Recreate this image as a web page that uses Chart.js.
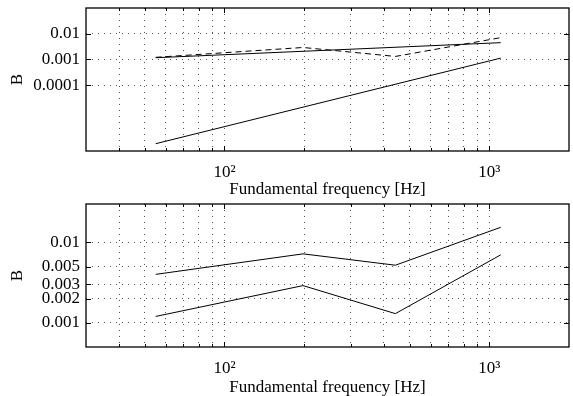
<!DOCTYPE html>
<html><head><meta charset="utf-8">
<script src="https://cdn.jsdelivr.net/npm/chart.js@4"></script>
<style>html,body{margin:0;padding:0;background:#fff;overflow:hidden}
canvas{position:absolute;left:0}</style></head>
<body>
<canvas id="c1" width="573" height="198" style="top:0"></canvas>
<canvas id="c2" width="573" height="198" style="top:198px"></canvas>
<script>
// ---- data ----
const freqEnds = [55, 1105];
const topSolidUpper = [0.00116, 0.00447];
const topSolidLower = [5.2e-7, 0.00112];
const freqs = [55, 198, 442, 1105];
const lowerSeries = [0.0012, 0.0029, 0.0013, 0.0070];
const upperSeries = [0.0040, 0.0072, 0.0052, 0.0154];
const xTickValues = [40,50,60,70,80,90,100,200,300,400,500,600,700,800,900,1000];
const xMajorTicks = [100, 1000];
const xMajorLabels = ['10\u00B2','10\u00B3'];
const topYTicks = [0.0001, 0.001, 0.01];
const topYLabels = ['0.0001','0.001','0.01'];
const botYTicks = [0.001, 0.002, 0.003, 0.005, 0.01];
const botYLabels = ['0.001','0.002','0.003','0.005','0.01'];
const xTitle = 'Fundamental frequency [Hz]';
const yTitle = 'B';

const FONT = {family: "'Liberation Serif', 'Times New Roman', serif", size: 17};

function pts(xs, ys){ return xs.map((x,i)=>({x:x, y:ys[i]})); }

const boxPlugin = {
  id: 'box',
  afterDraw(chart){
    const {ctx, chartArea: a} = chart;
    const xs = chart.scales.x, ys = chart.scales.y;
    ctx.save();
    ctx.strokeStyle = '#000';
    ctx.lineWidth = 1;
    ctx.beginPath();
    xs.ticks.forEach(t=>{
      const p = Math.round(xs.getPixelForValue(t.value)) + 0.5;
      const len = xMajorTicks.includes(t.value) ? 5 : 3;
      ctx.moveTo(p, a.bottom); ctx.lineTo(p, a.bottom - len);
      ctx.moveTo(p, a.top); ctx.lineTo(p, a.top + len);
    });
    ys.ticks.forEach(t=>{
      const p = Math.round(ys.getPixelForValue(t.value)) + 0.5;
      ctx.moveTo(a.left, p); ctx.lineTo(a.left + 5, p);
      ctx.moveTo(a.right, p); ctx.lineTo(a.right - 5, p);
    });
    ctx.stroke();
    ctx.lineWidth = 1.3;
    ctx.strokeRect(a.left, a.top, a.right - a.left, a.bottom - a.top);
    ctx.restore();
  }
};

function make(id, datasets, yMin, yMax, yTicks, yLabels, topPad, bottomY){
  return new Chart(document.getElementById(id), {
    type: 'line',
    data: {datasets: datasets},
    plugins: [boxPlugin],
    options: {
      responsive: false, animation: false, devicePixelRatio: 1,
      layout: {padding: {left: 0, right: 4, top: topPad, bottom: 0}},
      plugins: {legend: {display: false}, tooltip: {enabled: false}},
      elements: {point: {radius: 0}, line: {tension: 0}},
      scales: {
        x: {
          type: 'logarithmic', min: 30, max: 2000,
          afterBuildTicks: s => { s.ticks = xTickValues.map(v=>({value: v, major: xMajorTicks.includes(v)})); },
          afterFit: s => { s.height = 198 - bottomY; s.paddingLeft = 0; s.paddingRight = 0; },
          ticks: {autoSkip: false, maxRotation: 0, padding: 11, color: '#000', font: FONT,
            callback: v => { const i = xMajorTicks.indexOf(v); return i >= 0 ? xMajorLabels[i] : ''; }},
          grid: {drawTicks: false, color: '#555', lineWidth: 1},
          border: {display: false, dash: [1, 5]},
          title: {display: true, text: xTitle, color: '#000', font: FONT, padding: {top: 0, bottom: -2}}
        },
        y: {
          type: 'logarithmic', min: yMin, max: yMax,
          afterBuildTicks: s => { s.ticks = yTicks.map(v=>({value: v})); },
          afterFit: s => { s.width = 86; s.paddingTop = 0; s.paddingBottom = 0; },
          ticks: {autoSkip: false, padding: 6, color: '#000', font: FONT,
            callback: v => { const i = yTicks.indexOf(v); return i >= 0 ? yLabels[i] : ''; }},
          grid: {drawTicks: false, color: '#555', lineWidth: 1},
          border: {display: false, dash: [1, 5]},
          title: {display: true, text: yTitle, color: '#000', font: FONT, padding: {top: 7, bottom: 0}}
        }
      }
    }
  });
}

make('c1', [
  {data: pts(freqEnds, topSolidUpper), borderColor: '#000', borderWidth: 1},
  {data: pts(freqs, lowerSeries), borderColor: '#000', borderWidth: 1, borderDash: [6, 4]},
  {data: pts(freqEnds, topSolidLower), borderColor: '#000', borderWidth: 1}
], 2.7e-7, 0.1, topYTicks, topYLabels, 8, 151);

make('c2', [
  {data: pts(freqs, upperSeries), borderColor: '#000', borderWidth: 1},
  {data: pts(freqs, lowerSeries), borderColor: '#000', borderWidth: 1}
], 0.0005, 0.03, botYTicks, botYLabels, 6, 149);
</script>
</body></html>
